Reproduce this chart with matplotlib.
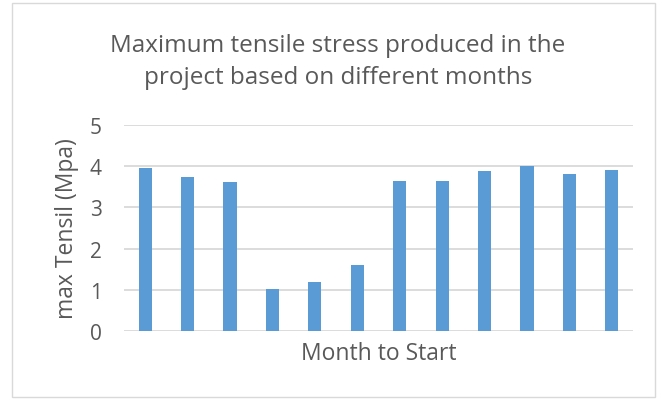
import matplotlib
matplotlib.use("Agg")
import matplotlib.pyplot as plt
from matplotlib.patches import Rectangle

months = list(range(1, 13))
values = [3.95, 3.74, 3.61, 1.03, 1.18, 1.61, 3.63, 3.63, 3.89, 4.00, 3.82, 3.90]
yticks = [0, 1, 2, 3, 4, 5]
title = "Maximum tensile stress produced in the\nproject based on different months"
xlabel = "Month to Start"
ylabel = "max Tensil (Mpa)"

plt.rcParams['font.family'] = ['Open Sans', 'DejaVu Sans']
text_color = '#595959'

fig = plt.figure(figsize=(6.67, 4.02), dpi=100)
fig.patches.append(Rectangle((12/667, 4/402), (655-12)/667, (398-4)/402,
                             transform=fig.transFigure, fill=False,
                             edgecolor='#D9D9D9', linewidth=1))
ax = fig.add_axes([124/667, 1 - 332/402, (633-124)/667, (332-126)/402])

ax.bar(range(len(months)), values, width=0.31, color='#5B9BD5', zorder=3)
ax.set_xlim(-0.5, len(months) - 0.5)
ax.set_ylim(0, 5)
ax.set_yticks(yticks)
ax.set_xticks([])
ax.grid(axis='y', color='#D9D9D9', linewidth=1.3, zorder=0)
for s in ax.spines.values():
    s.set_visible(False)
ax.tick_params(axis='y', length=0, pad=16, labelsize=15, labelcolor=text_color)
ax.set_xlabel(xlabel, fontsize=16.5, color=text_color, labelpad=7)
ax.set_ylabel(ylabel, fontsize=16.5, color=text_color, labelpad=8)
fig.text(338/667, 1 - 62/402, title, ha='center', va='center', fontsize=17.5,
         color=text_color, linespacing=1.45)

fig.savefig("out.png", dpi=100)
